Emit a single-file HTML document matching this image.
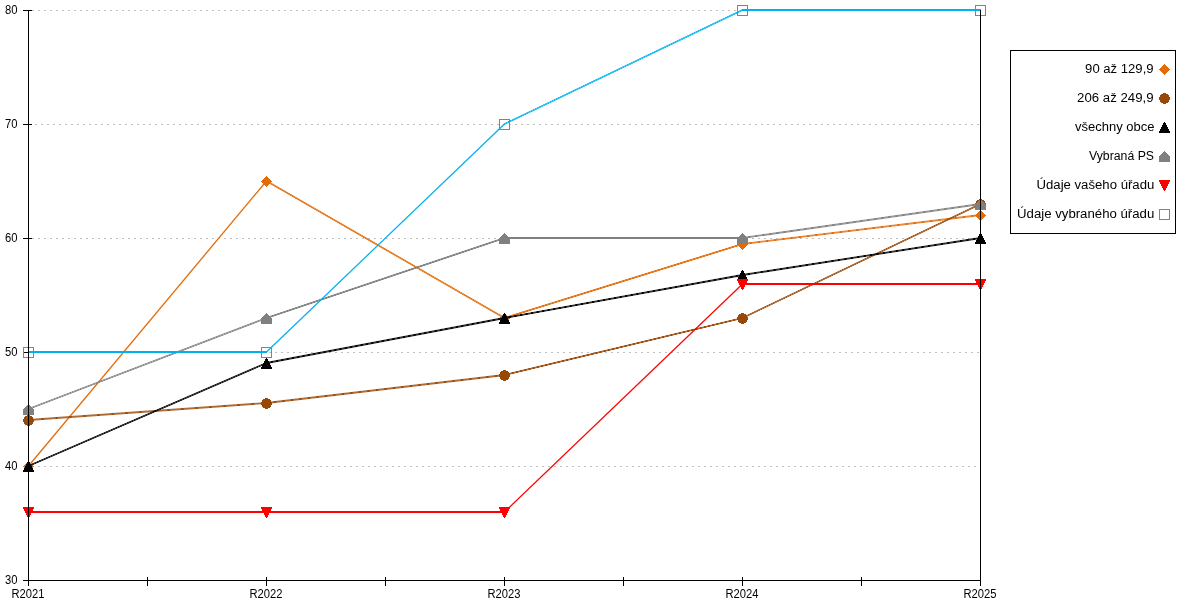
<!DOCTYPE html>
<html><head><meta charset="utf-8"><title>chart</title>
<style>
html,body{margin:0;padding:0;background:#fff;}
body{width:1200px;height:600px;overflow:hidden;}
svg{display:block;will-change:transform;}
text{font-family:"Liberation Sans",sans-serif;font-size:12px;fill:#000;}
</style></head><body>
<svg width="1200" height="600" viewBox="0 0 1200 600">
<rect width="1200" height="600" fill="#fff"/>

<g stroke="#c0c0c0" stroke-width="1" stroke-dasharray="2 4" shape-rendering="crispEdges">
<line x1="32" y1="466.5" x2="980" y2="466.5"/>
<line x1="35" y1="352.5" x2="980" y2="352.5"/>
<line x1="32" y1="238.5" x2="980" y2="238.5"/>
<line x1="35" y1="124.5" x2="980" y2="124.5"/>
<line x1="32" y1="10.5" x2="980" y2="10.5"/>
</g>
<g fill="#000" shape-rendering="crispEdges">
<rect x="23" y="466.0" width="9" height="1"/>
<rect x="23" y="352.0" width="9" height="1"/>
<rect x="23" y="238.0" width="9" height="1"/>
<rect x="23" y="124.0" width="9" height="1"/>
<rect x="23" y="10.0" width="9" height="1"/>
</g>
<g>
<g shape-rendering="crispEdges">
<path d="M28 461h1v1h-1zM27 462h3v1h-3zM26 463h5v1h-5zM25 464h7v1h-7zM24 465h9v1h-9zM23 466h11v1h-11zM24 467h9v1h-9zM25 468h7v1h-7zM26 469h5v1h-5zM27 470h3v1h-3zM28 471h1v1h-1z" fill="#E36C0A"/>
<path d="M266 176h1v1h-1zM265 177h3v1h-3zM264 178h5v1h-5zM263 179h7v1h-7zM262 180h9v1h-9zM261 181h11v1h-11zM262 182h9v1h-9zM263 183h7v1h-7zM264 184h5v1h-5zM265 185h3v1h-3zM266 186h1v1h-1z" fill="#E36C0A"/>
<path d="M504 313h1v1h-1zM503 314h3v1h-3zM502 315h5v1h-5zM501 316h7v1h-7zM500 317h9v1h-9zM499 318h11v1h-11zM500 319h9v1h-9zM501 320h7v1h-7zM502 321h5v1h-5zM503 322h3v1h-3zM504 323h1v1h-1z" fill="#E36C0A"/>
<path d="M742 239h1v1h-1zM741 240h3v1h-3zM740 241h5v1h-5zM739 242h7v1h-7zM738 243h9v1h-9zM737 244h11v1h-11zM738 245h9v1h-9zM739 246h7v1h-7zM740 247h5v1h-5zM741 248h3v1h-3zM742 249h1v1h-1z" fill="#E36C0A"/>
<path d="M980 210h1v1h-1zM979 211h3v1h-3zM978 212h5v1h-5zM977 213h7v1h-7zM976 214h9v1h-9zM975 215h11v1h-11zM976 216h9v1h-9zM977 217h7v1h-7zM978 218h5v1h-5zM979 219h3v1h-3zM980 220h1v1h-1z" fill="#E36C0A"/>
</g>
<line x1="28.5" y1="466.0" x2="266.5" y2="181.0" stroke="#E36C0A" stroke-width="1.32"/>
<line x1="266.5" y1="181.0" x2="504.5" y2="318.0" stroke="#E36C0A" stroke-width="1.59" stroke-opacity="0.7"/>
<line x1="266.5" y1="181.0" x2="504.5" y2="318.0" stroke="#E36C0A" stroke-width="1.47" stroke-linecap="round" stroke-dasharray="0.10 1.904" stroke-dashoffset="0.05"/>
<line x1="504.5" y1="318.0" x2="742.5" y2="244.0" stroke="#E36C0A" stroke-width="1.76" stroke-opacity="0.8"/>
<line x1="504.5" y1="318.0" x2="742.5" y2="244.0" stroke="#E36C0A" stroke-width="1.91" stroke-linecap="round" stroke-dasharray="0.50 2.868" stroke-dashoffset="0.25"/>
<line x1="742.5" y1="244.0" x2="980.5" y2="215.0" stroke="#E36C0A" stroke-width="1.83" stroke-opacity="0.8"/>
<line x1="742.5" y1="244.0" x2="980.5" y2="215.0" stroke="#E36C0A" stroke-width="1.99" stroke-linecap="round" stroke-dasharray="0.50 7.768" stroke-dashoffset="0.25"/>
</g>
<g>
<g shape-rendering="crispEdges">
<path d="M27 415h3v1h-3zM25 416h7v1h-7zM24 417h9v1h-9zM24 418h9v1h-9zM23 419h11v1h-11zM23 420h11v1h-11zM23 421h11v1h-11zM24 422h9v1h-9zM24 423h9v1h-9zM25 424h7v1h-7zM27 425h3v1h-3z" fill="#984807"/>
<path d="M265 398h3v1h-3zM263 399h7v1h-7zM262 400h9v1h-9zM262 401h9v1h-9zM261 402h11v1h-11zM261 403h11v1h-11zM261 404h11v1h-11zM262 405h9v1h-9zM262 406h9v1h-9zM263 407h7v1h-7zM265 408h3v1h-3z" fill="#984807"/>
<path d="M503 370h3v1h-3zM501 371h7v1h-7zM500 372h9v1h-9zM500 373h9v1h-9zM499 374h11v1h-11zM499 375h11v1h-11zM499 376h11v1h-11zM500 377h9v1h-9zM500 378h9v1h-9zM501 379h7v1h-7zM503 380h3v1h-3z" fill="#984807"/>
<path d="M741 313h3v1h-3zM739 314h7v1h-7zM738 315h9v1h-9zM738 316h9v1h-9zM737 317h11v1h-11zM737 318h11v1h-11zM737 319h11v1h-11zM738 320h9v1h-9zM738 321h9v1h-9zM739 322h7v1h-7zM741 323h3v1h-3z" fill="#984807"/>
<path d="M979 199h3v1h-3zM977 200h7v1h-7zM976 201h9v1h-9zM976 202h9v1h-9zM975 203h11v1h-11zM975 204h11v1h-11zM975 205h11v1h-11zM976 206h9v1h-9zM976 207h9v1h-9zM977 208h7v1h-7zM979 209h3v1h-3z" fill="#984807"/>
</g>
<line x1="28.5" y1="420.0" x2="266.5" y2="403.0" stroke="#984807" stroke-width="1.84" stroke-opacity="0.8"/>
<line x1="28.5" y1="420.0" x2="266.5" y2="403.0" stroke="#984807" stroke-width="1.99" stroke-linecap="round" stroke-dasharray="0.50 13.536" stroke-dashoffset="0.25"/>
<line x1="266.5" y1="403.0" x2="504.5" y2="375.0" stroke="#984807" stroke-width="1.83" stroke-opacity="0.8"/>
<line x1="266.5" y1="403.0" x2="504.5" y2="375.0" stroke="#984807" stroke-width="1.99" stroke-linecap="round" stroke-dasharray="0.50 8.059" stroke-dashoffset="0.25"/>
<line x1="504.5" y1="375.0" x2="742.5" y2="318.0" stroke="#984807" stroke-width="1.79" stroke-opacity="0.8"/>
<line x1="504.5" y1="375.0" x2="742.5" y2="318.0" stroke="#984807" stroke-width="1.94" stroke-linecap="round" stroke-dasharray="0.50 3.794" stroke-dashoffset="0.25"/>
<line x1="742.5" y1="318.0" x2="980.5" y2="204.0" stroke="#984807" stroke-width="1.66" stroke-opacity="0.7"/>
<line x1="742.5" y1="318.0" x2="980.5" y2="204.0" stroke="#984807" stroke-width="1.53" stroke-linecap="round" stroke-dasharray="0.10 2.215" stroke-dashoffset="0.05"/>
</g>
<g>
<g shape-rendering="crispEdges">
<path d="M28 461h1v1h-1zM27 462h3v1h-3zM27 463h3v1h-3zM26 464h5v1h-5zM26 465h5v1h-5zM25 466h7v1h-7zM25 467h7v1h-7zM24 468h9v1h-9zM24 469h9v1h-9zM23 470h11v1h-11zM23 471h11v1h-11z" fill="#000000"/>
<path d="M266 358h1v1h-1zM265 359h3v1h-3zM265 360h3v1h-3zM264 361h5v1h-5zM264 362h5v1h-5zM263 363h7v1h-7zM263 364h7v1h-7zM262 365h9v1h-9zM262 366h9v1h-9zM261 367h11v1h-11zM261 368h11v1h-11z" fill="#000000"/>
<path d="M504 313h1v1h-1zM503 314h3v1h-3zM503 315h3v1h-3zM502 316h5v1h-5zM502 317h5v1h-5zM501 318h7v1h-7zM501 319h7v1h-7zM500 320h9v1h-9zM500 321h9v1h-9zM499 322h11v1h-11zM499 323h11v1h-11z" fill="#000000"/>
<path d="M742 270h1v1h-1zM741 271h3v1h-3zM741 272h3v1h-3zM740 273h5v1h-5zM740 274h5v1h-5zM739 275h7v1h-7zM739 276h7v1h-7zM738 277h9v1h-9zM738 278h9v1h-9zM737 279h11v1h-11zM737 280h11v1h-11z" fill="#000000"/>
<path d="M980 233h1v1h-1zM979 234h3v1h-3zM979 235h3v1h-3zM978 236h5v1h-5zM978 237h5v1h-5zM977 238h7v1h-7zM977 239h7v1h-7zM976 240h9v1h-9zM976 241h9v1h-9zM975 242h11v1h-11zM975 243h11v1h-11z" fill="#000000"/>
</g>
<line x1="28.5" y1="466.0" x2="266.5" y2="363.0" stroke="#000000" stroke-width="1.69" stroke-opacity="0.7"/>
<line x1="28.5" y1="466.0" x2="266.5" y2="363.0" stroke="#000000" stroke-width="1.56" stroke-linecap="round" stroke-dasharray="0.10 2.418" stroke-dashoffset="0.05"/>
<line x1="266.5" y1="363.0" x2="504.5" y2="318.0" stroke="#000000" stroke-width="1.81" stroke-opacity="0.8"/>
<line x1="266.5" y1="363.0" x2="504.5" y2="318.0" stroke="#000000" stroke-width="1.97" stroke-linecap="round" stroke-dasharray="0.50 4.883" stroke-dashoffset="0.25"/>
<line x1="504.5" y1="318.0" x2="742.5" y2="275.0" stroke="#000000" stroke-width="1.81" stroke-opacity="0.8"/>
<line x1="504.5" y1="318.0" x2="742.5" y2="275.0" stroke="#000000" stroke-width="1.97" stroke-linecap="round" stroke-dasharray="0.50 5.124" stroke-dashoffset="0.25"/>
<line x1="742.5" y1="275.0" x2="980.5" y2="238.0" stroke="#000000" stroke-width="1.82" stroke-opacity="0.8"/>
<line x1="742.5" y1="275.0" x2="980.5" y2="238.0" stroke="#000000" stroke-width="1.98" stroke-linecap="round" stroke-dasharray="0.50 6.010" stroke-dashoffset="0.25"/>
</g>
<g>
<g shape-rendering="crispEdges">
<path d="M28 404h1v1h-1zM27 405h3v1h-3zM26 406h5v1h-5zM25 407h7v1h-7zM24 408h9v1h-9zM23 409h11v1h-11zM23 410h11v1h-11zM23 411h11v1h-11zM23 412h11v1h-11zM23 413h11v1h-11zM23 414h11v1h-11z" fill="#808080"/>
<path d="M266 313h1v1h-1zM265 314h3v1h-3zM264 315h5v1h-5zM263 316h7v1h-7zM262 317h9v1h-9zM261 318h11v1h-11zM261 319h11v1h-11zM261 320h11v1h-11zM261 321h11v1h-11zM261 322h11v1h-11zM261 323h11v1h-11z" fill="#808080"/>
<path d="M504 233h1v1h-1zM503 234h3v1h-3zM502 235h5v1h-5zM501 236h7v1h-7zM500 237h9v1h-9zM499 238h11v1h-11zM499 239h11v1h-11zM499 240h11v1h-11zM499 241h11v1h-11zM499 242h11v1h-11zM499 243h11v1h-11z" fill="#808080"/>
<path d="M742 233h1v1h-1zM741 234h3v1h-3zM740 235h5v1h-5zM739 236h7v1h-7zM738 237h9v1h-9zM737 238h11v1h-11zM737 239h11v1h-11zM737 240h11v1h-11zM737 241h11v1h-11zM737 242h11v1h-11zM737 243h11v1h-11z" fill="#808080"/>
<path d="M980 199h1v1h-1zM979 200h3v1h-3zM978 201h5v1h-5zM977 202h7v1h-7zM976 203h9v1h-9zM975 204h11v1h-11zM975 205h11v1h-11zM975 206h11v1h-11zM975 207h11v1h-11zM975 208h11v1h-11zM975 209h11v1h-11z" fill="#808080"/>
</g>
<line x1="28.5" y1="409.0" x2="266.5" y2="318.0" stroke="#808080" stroke-width="1.72" stroke-opacity="0.7"/>
<line x1="28.5" y1="409.0" x2="266.5" y2="318.0" stroke="#808080" stroke-width="1.59" stroke-linecap="round" stroke-dasharray="0.10 2.700" stroke-dashoffset="0.05"/>
<line x1="266.5" y1="318.0" x2="504.5" y2="238.0" stroke="#808080" stroke-width="1.74" stroke-opacity="0.8"/>
<line x1="266.5" y1="318.0" x2="504.5" y2="238.0" stroke="#808080" stroke-width="1.90" stroke-linecap="round" stroke-dasharray="0.50 2.639" stroke-dashoffset="0.25"/>
<rect x="504.0" y="237.0" width="239.0" height="2" fill="#808080" shape-rendering="crispEdges"/>
<line x1="742.5" y1="238.0" x2="980.5" y2="204.0" stroke="#808080" stroke-width="1.82" stroke-opacity="0.8"/>
<line x1="742.5" y1="238.0" x2="980.5" y2="204.0" stroke="#808080" stroke-width="1.98" stroke-linecap="round" stroke-dasharray="0.50 6.571" stroke-dashoffset="0.25"/>
</g>
<g>
<g shape-rendering="crispEdges">
<path d="M23 507h11v1h-11zM23 508h11v1h-11zM24 509h9v1h-9zM24 510h9v1h-9zM25 511h7v1h-7zM25 512h7v1h-7zM26 513h5v1h-5zM26 514h5v1h-5zM27 515h3v1h-3zM27 516h3v1h-3zM28 517h1v1h-1z" fill="#FF0000"/>
<path d="M261 507h11v1h-11zM261 508h11v1h-11zM262 509h9v1h-9zM262 510h9v1h-9zM263 511h7v1h-7zM263 512h7v1h-7zM264 513h5v1h-5zM264 514h5v1h-5zM265 515h3v1h-3zM265 516h3v1h-3zM266 517h1v1h-1z" fill="#FF0000"/>
<path d="M499 507h11v1h-11zM499 508h11v1h-11zM500 509h9v1h-9zM500 510h9v1h-9zM501 511h7v1h-7zM501 512h7v1h-7zM502 513h5v1h-5zM502 514h5v1h-5zM503 515h3v1h-3zM503 516h3v1h-3zM504 517h1v1h-1z" fill="#FF0000"/>
<path d="M737 279h11v1h-11zM737 280h11v1h-11zM738 281h9v1h-9zM738 282h9v1h-9zM739 283h7v1h-7zM739 284h7v1h-7zM740 285h5v1h-5zM740 286h5v1h-5zM741 287h3v1h-3zM741 288h3v1h-3zM742 289h1v1h-1z" fill="#FF0000"/>
<path d="M975 279h11v1h-11zM975 280h11v1h-11zM976 281h9v1h-9zM976 282h9v1h-9zM977 283h7v1h-7zM977 284h7v1h-7zM978 285h5v1h-5zM978 286h5v1h-5zM979 287h3v1h-3zM979 288h3v1h-3zM980 289h1v1h-1z" fill="#FF0000"/>
</g>
<rect x="28.0" y="511.0" width="239.0" height="2" fill="#FF0000" shape-rendering="crispEdges"/>
<rect x="266.0" y="511.0" width="239.0" height="2" fill="#FF0000" shape-rendering="crispEdges"/>
<line x1="504.5" y1="512.0" x2="742.5" y2="284.0" stroke="#FF0000" stroke-width="1.24"/>
<rect x="742.0" y="283.0" width="239.0" height="2" fill="#FF0000" shape-rendering="crispEdges"/>
</g>
<g>
<g shape-rendering="crispEdges">
<rect x="23.5" y="347.5" width="10" height="10" fill="none" stroke="#00B0F0" stroke-width="1"/>
<rect x="261.5" y="347.5" width="10" height="10" fill="none" stroke="#00B0F0" stroke-width="1"/>
<rect x="499.5" y="119.5" width="10" height="10" fill="none" stroke="#00B0F0" stroke-width="1"/>
<rect x="737.5" y="5.5" width="10" height="10" fill="none" stroke="#00B0F0" stroke-width="1"/>
<rect x="975.5" y="5.5" width="10" height="10" fill="none" stroke="#00B0F0" stroke-width="1"/>
</g>
<rect x="28.0" y="351.0" width="239.0" height="2" fill="#00B0F0" shape-rendering="crispEdges"/>
<line x1="266.5" y1="352.0" x2="504.5" y2="124.0" stroke="#00B0F0" stroke-width="1.24"/>
<line x1="504.5" y1="124.0" x2="742.5" y2="10.0" stroke="#00B0F0" stroke-width="1.66" stroke-opacity="0.7"/>
<line x1="504.5" y1="124.0" x2="742.5" y2="10.0" stroke="#00B0F0" stroke-width="1.53" stroke-linecap="round" stroke-dasharray="0.10 2.215" stroke-dashoffset="0.05"/>
<rect x="742.0" y="9.0" width="239.0" height="2" fill="#00B0F0" shape-rendering="crispEdges"/>
</g>
<g fill="#000" shape-rendering="crispEdges">
<rect x="28" y="10" width="1" height="576"/>
<rect x="980" y="10" width="1" height="576"/>
<rect x="23" y="580" width="958" height="1"/>
<rect x="147" y="577" width="1" height="9"/>
<rect x="266" y="577" width="1" height="9"/>
<rect x="385" y="577" width="1" height="9"/>
<rect x="504" y="577" width="1" height="9"/>
<rect x="623" y="577" width="1" height="9"/>
<rect x="742" y="577" width="1" height="9"/>
<rect x="861" y="577" width="1" height="9"/>
</g>
<text x="17.5" y="584.3" text-anchor="end" textLength="12.5" lengthAdjust="spacingAndGlyphs">30</text>
<text x="17.5" y="470.3" text-anchor="end" textLength="12.5" lengthAdjust="spacingAndGlyphs">40</text>
<text x="17.5" y="356.3" text-anchor="end" textLength="12.5" lengthAdjust="spacingAndGlyphs">50</text>
<text x="17.5" y="242.3" text-anchor="end" textLength="12.5" lengthAdjust="spacingAndGlyphs">60</text>
<text x="17.5" y="128.3" text-anchor="end" textLength="12.5" lengthAdjust="spacingAndGlyphs">70</text>
<text x="17.5" y="14.3" text-anchor="end" textLength="12.5" lengthAdjust="spacingAndGlyphs">80</text>
<text x="28.0" y="598" text-anchor="middle" textLength="33" lengthAdjust="spacingAndGlyphs">R2021</text>
<text x="266.0" y="598" text-anchor="middle" textLength="33" lengthAdjust="spacingAndGlyphs">R2022</text>
<text x="504.0" y="598" text-anchor="middle" textLength="33" lengthAdjust="spacingAndGlyphs">R2023</text>
<text x="742.0" y="598" text-anchor="middle" textLength="33" lengthAdjust="spacingAndGlyphs">R2024</text>
<text x="980.0" y="598" text-anchor="middle" textLength="33" lengthAdjust="spacingAndGlyphs">R2025</text>
<rect x="1010.5" y="50.5" width="165" height="183" fill="#fff" stroke="#000" stroke-width="1" shape-rendering="crispEdges"/>
<g shape-rendering="crispEdges"><path d="M1164 64h1v1h-1zM1163 65h3v1h-3zM1162 66h5v1h-5zM1161 67h7v1h-7zM1160 68h9v1h-9zM1159 69h11v1h-11zM1160 70h9v1h-9zM1161 71h7v1h-7zM1162 72h5v1h-5zM1163 73h3v1h-3zM1164 74h1v1h-1z" fill="#E36C0A"/></g>
<text x="1153.6" y="73.1" text-anchor="end" textLength="68.5" lengthAdjust="spacingAndGlyphs">90 až 129,9</text>
<g shape-rendering="crispEdges"><path d="M1163 93h3v1h-3zM1161 94h7v1h-7zM1160 95h9v1h-9zM1160 96h9v1h-9zM1159 97h11v1h-11zM1159 98h11v1h-11zM1159 99h11v1h-11zM1160 100h9v1h-9zM1160 101h9v1h-9zM1161 102h7v1h-7zM1163 103h3v1h-3z" fill="#984807"/></g>
<text x="1153.6" y="102.1" text-anchor="end" textLength="76.5" lengthAdjust="spacingAndGlyphs">206 až 249,9</text>
<g shape-rendering="crispEdges"><path d="M1164 122h1v1h-1zM1163 123h3v1h-3zM1163 124h3v1h-3zM1162 125h5v1h-5zM1162 126h5v1h-5zM1161 127h7v1h-7zM1161 128h7v1h-7zM1160 129h9v1h-9zM1160 130h9v1h-9zM1159 131h11v1h-11zM1159 132h11v1h-11z" fill="#000000"/></g>
<text x="1154.5" y="131.1" text-anchor="end" textLength="79.5" lengthAdjust="spacingAndGlyphs">všechny obce</text>
<g shape-rendering="crispEdges"><path d="M1164 151h1v1h-1zM1163 152h3v1h-3zM1162 153h5v1h-5zM1161 154h7v1h-7zM1160 155h9v1h-9zM1159 156h11v1h-11zM1159 157h11v1h-11zM1159 158h11v1h-11zM1159 159h11v1h-11zM1159 160h11v1h-11zM1159 161h11v1h-11z" fill="#808080"/></g>
<text x="1154" y="160.0" text-anchor="end" textLength="65" lengthAdjust="spacingAndGlyphs">Vybraná PS</text>
<g shape-rendering="crispEdges"><path d="M1159 180h11v1h-11zM1159 181h11v1h-11zM1160 182h9v1h-9zM1160 183h9v1h-9zM1161 184h7v1h-7zM1161 185h7v1h-7zM1162 186h5v1h-5zM1162 187h5v1h-5zM1163 188h3v1h-3zM1163 189h3v1h-3zM1164 190h1v1h-1z" fill="#FF0000"/></g>
<text x="1154.3" y="189.0" text-anchor="end" textLength="117.8" lengthAdjust="spacingAndGlyphs">Údaje vašeho úřadu</text>
<g shape-rendering="crispEdges"><rect x="1159.5" y="209.5" width="10" height="10" fill="none" stroke="#00B0F0" stroke-width="1"/></g>
<text x="1154.3" y="218.0" text-anchor="end" textLength="137.3" lengthAdjust="spacingAndGlyphs">Údaje vybraného úřadu</text>
</svg></body></html>
